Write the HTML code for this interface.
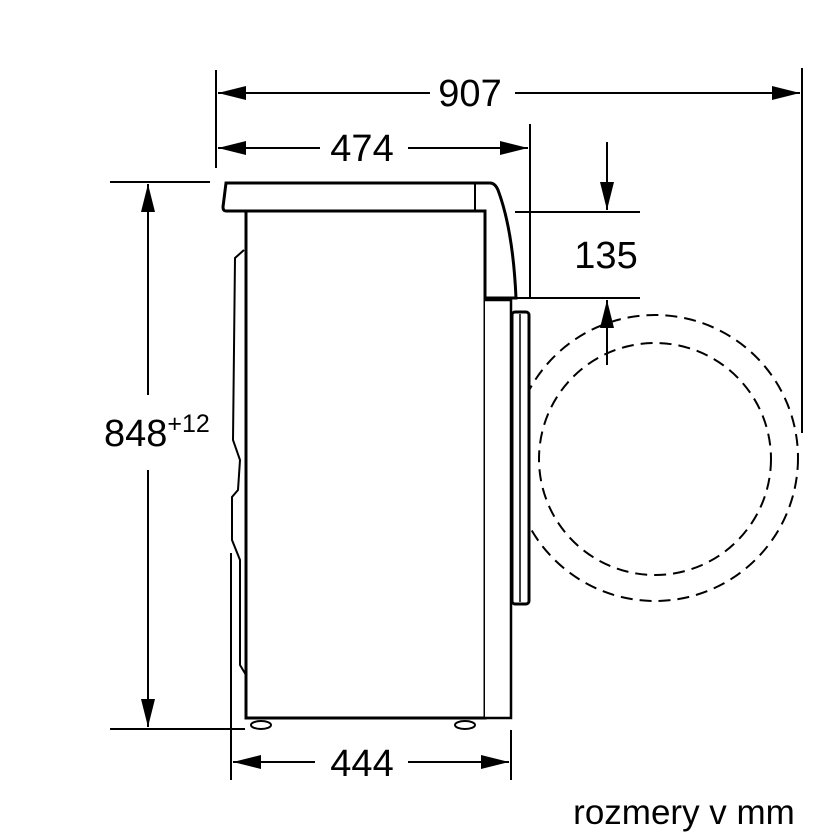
<!DOCTYPE html>
<html><head><style>html,body{margin:0;padding:0;background:#fff;}svg{display:block}</style></head>
<body>
<svg width="840" height="840" viewBox="0 0 840 840" xmlns="http://www.w3.org/2000/svg">
<defs>
<marker id="a" viewBox="0 0 28 14" refX="28" refY="7" markerWidth="28" markerHeight="14" markerUnits="userSpaceOnUse" orient="auto"><path d="M0,0 L28,7 L0,14 Z" fill="#000"/></marker>
</defs>
<g stroke="#000" fill="none" stroke-width="2">
<line x1="216" y1="70" x2="216" y2="168"/>
<line x1="802" y1="68" x2="802" y2="433"/>
<line x1="530" y1="124" x2="530" y2="297"/>
<line x1="110" y1="182" x2="210" y2="182"/>
<line x1="110" y1="729" x2="245" y2="729"/>
<line x1="231" y1="553" x2="231" y2="780"/>
<line x1="511" y1="730" x2="511" y2="780"/>
<line x1="515" y1="212" x2="640" y2="212"/>
<line x1="515" y1="298" x2="640" y2="298"/>
<line x1="430" y1="93" x2="218" y2="93" marker-end="url(#a)"/>
<line x1="515" y1="93" x2="800" y2="93" marker-end="url(#a)"/>
<line x1="320" y1="148" x2="218" y2="148" marker-end="url(#a)"/>
<line x1="408" y1="148" x2="528" y2="148" marker-end="url(#a)"/>
<line x1="148" y1="395" x2="148" y2="184" marker-end="url(#a)"/>
<line x1="148" y1="470" x2="148" y2="727" marker-end="url(#a)"/>
<line x1="315" y1="762" x2="233" y2="762" marker-end="url(#a)"/>
<line x1="408" y1="762" x2="509" y2="762" marker-end="url(#a)"/>
<line x1="607" y1="142" x2="607" y2="210" marker-end="url(#a)"/>
<line x1="607" y1="365" x2="607" y2="300" marker-end="url(#a)"/>
<circle cx="655" cy="458" r="143" stroke-dasharray="12 7"/>
<circle cx="655" cy="459" r="116" stroke-dasharray="12 7"/>
<path d="M226,183 L490,183 Q495,183 498,190 Q513,230 516,298 L485,298 L485,211 L226,211 Q223,211 223,207 Z" fill="#fff" stroke-width="3"/>
<line x1="475" y1="183" x2="475" y2="211"/>
<rect x="246" y="211" width="239" height="507" fill="#fff" stroke-width="3"/>
<line x1="485" y1="298" x2="485" y2="718"/>
<path d="M485,300 L511,300 L511,718 L485,718" stroke-width="2.5" fill="#fff"/>
<rect x="512" y="312" width="17" height="292" rx="3" fill="#fff" stroke-width="3"/>
<line x1="520" y1="314" x2="520" y2="602" stroke-width="1.5"/>
<path d="M244,250 L235,258 L233,440 L240,460 L238,490 L232,497 L232,540 L240,560 L240,665 L246,675" stroke-width="2"/>
<ellipse cx="261" cy="725" rx="10" ry="4" fill="#fff"/>
<ellipse cx="465" cy="725" rx="10" ry="4" fill="#fff"/>
</g>
<g font-family="Liberation Sans, sans-serif" font-size="38" fill="#000" text-anchor="middle">
<text x="470" y="106">907</text>
<text x="362" y="161">474</text>
<text x="362" y="776">444</text>
<text x="606" y="268">135</text>
<text x="104" y="446" text-anchor="start">848<tspan font-size="25" dy="-14">+12</tspan></text>
<text x="684" y="824" font-size="35">rozmery v mm</text>
</g>
</svg>
</body></html>
